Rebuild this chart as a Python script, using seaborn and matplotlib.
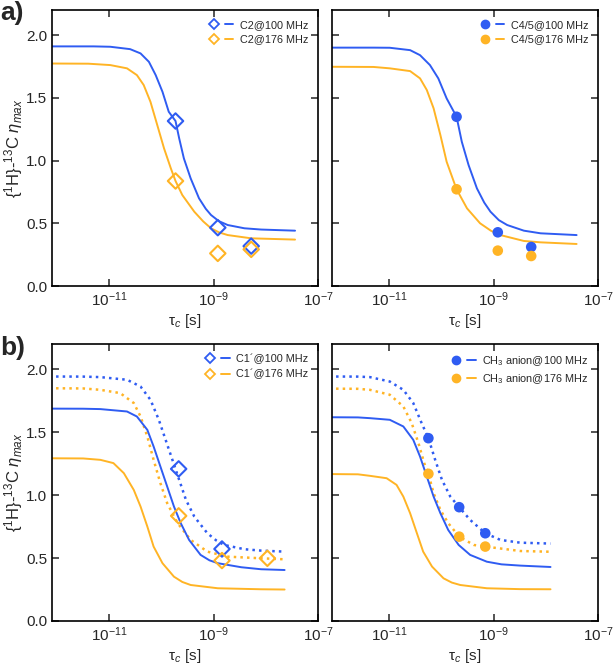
import numpy as np
import pandas as pd
import seaborn as sns
import matplotlib.pyplot as plt
from matplotlib.lines import Line2D
from matplotlib.legend_handler import HandlerTuple
from matplotlib.ticker import NullLocator, FormatStrFormatter

sns.set_style("ticks")
plt.rcParams['font.family'] = ['Liberation Sans', 'DejaVu Sans']
plt.rcParams['mathtext.fontset'] = 'custom'
plt.rcParams['mathtext.rm'] = 'Liberation Sans'
plt.rcParams['mathtext.it'] = 'Liberation Sans:italic'

BLUE = "#2f5cf2"
ORANGE = "#ffb425"

# ---- data (log10 of tau_c in s, eta_max) ----
# a) left: C2
a1_blue_log = [-12.4, -11.3, -10.98, -10.60, -10.40, -10.24, -10.11, -9.98, -9.86, -9.73, -9.66, -9.57,
               -9.44, -9.28, -9.15, -9.05, -8.90, -8.73, -8.41, -8.09, -7.44]
a1_blue_eta = [1.91, 1.91, 1.907, 1.888, 1.854, 1.787, 1.681, 1.548, 1.389, 1.315, 1.177, 1.017,
               0.858, 0.699, 0.615, 0.566, 0.517, 0.486, 0.460, 0.450, 0.441]
a1_orng_log = [-12.4, -11.4, -10.98, -10.66, -10.47, -10.34, -10.21, -10.08, -9.95, -9.82, -9.73, -9.60,
               -9.37, -9.20, -9.05, -8.90, -8.73, -8.28, -7.44]
a1_orng_eta = [1.774, 1.772, 1.761, 1.735, 1.681, 1.602, 1.468, 1.283, 1.097, 0.938, 0.837, 0.725,
               0.592, 0.515, 0.460, 0.428, 0.406, 0.380, 0.370]
a1_pts_log = [-9.73, -8.92, -8.28]
a1_pts_blue = [1.315, 0.465, 0.318]
a1_pts_orng = [0.837, 0.26, 0.292]

# a) right: C4/5
a2_blue_log = [-12.4, -11.3, -10.99, -10.60, -10.41, -10.22, -10.06, -9.90, -9.71, -9.61, -9.48, -9.32,
               -9.18, -9.06, -8.90, -8.74, -8.42, -8.10, -7.41]
a2_blue_eta = [1.90, 1.90, 1.899, 1.880, 1.840, 1.761, 1.655, 1.495, 1.349, 1.150, 0.964, 0.778,
               0.665, 0.592, 0.525, 0.486, 0.441, 0.420, 0.406]
a2_orng_log = [-12.4, -11.3, -10.99, -10.60, -10.41, -10.28, -10.15, -10.02, -9.90, -9.71, -9.51, -9.26,
               -9.05, -8.87, -8.42, -8.10, -7.41]
a2_orng_eta = [1.748, 1.746, 1.735, 1.713, 1.655, 1.562, 1.416, 1.203, 0.990, 0.771, 0.619, 0.500,
               0.440, 0.406, 0.359, 0.348, 0.335]
a2_pts_log = [-9.71, -8.92, -8.28]
a2_pts_blue = [1.349, 0.428, 0.311]
a2_pts_orng = [0.771, 0.282, 0.239]

# b) left: C1'
b1_blue_dot_log = [-12.4, -11.5, -11.17, -10.66, -10.40, -10.21, -10.05, -9.92, -9.79, -9.66, -9.53, -9.37,
                   -9.12, -8.95, -8.80, -8.41, -8.09, -7.64]
b1_blue_dot_eta = [1.942, 1.941, 1.937, 1.916, 1.862, 1.757, 1.598, 1.439, 1.280, 1.121, 0.962, 0.829,
                   0.697, 0.640, 0.604, 0.570, 0.559, 0.551]
b1_orng_dot_log = [-12.4, -11.5, -11.17, -10.79, -10.53, -10.40, -10.27, -10.15, -10.02, -9.89, -9.69, -9.44,
                   -9.12, -8.73, -8.09, -7.64]
b1_orng_dot_eta = [1.849, 1.847, 1.836, 1.810, 1.731, 1.624, 1.465, 1.280, 1.095, 0.936, 0.777, 0.644,
                   0.551, 0.511, 0.498, 0.490]
b1_blue_sol_log = [-12.4, -11.5, -11.17, -10.66, -10.47, -10.27, -10.15, -10.02, -9.89, -9.76, -9.63, -9.47,
                   -9.25, -9.08, -8.92, -8.47, -8.09, -7.64]
b1_blue_sol_eta = [1.687, 1.686, 1.683, 1.664, 1.624, 1.518, 1.386, 1.227, 1.068, 0.909, 0.777, 0.644,
                   0.525, 0.482, 0.459, 0.427, 0.411, 0.405]
b1_orng_sol_log = [-12.4, -11.5, -11.17, -10.92, -10.72, -10.53, -10.40, -10.27, -10.15, -9.98, -9.76, -9.60,
                   -9.44, -8.92, -8.09, -7.64]
b1_orng_sol_eta = [1.293, 1.291, 1.280, 1.254, 1.174, 1.041, 0.909, 0.750, 0.591, 0.459, 0.352, 0.310,
                   0.286, 0.260, 0.252, 0.250]
b1_pts_blue_log = [-9.67, -8.84]
b1_pts_blue = [1.208, 0.572]
b1_pts_orng_log = [-9.67, -8.84, -7.97]
b1_pts_orng = [0.835, 0.480, 0.498]

# b) right: CH3 anion
b2_blue_dot_log = [-12.4, -11.6, -11.37, -10.99, -10.73, -10.54, -10.38, -10.25, -10.12, -9.99, -9.83, -9.66,
                   -9.45, -9.16, -8.87, -8.49, -7.91]
b2_blue_dot_eta = [1.942, 1.941, 1.937, 1.902, 1.836, 1.731, 1.572, 1.452, 1.280, 1.121, 0.988, 0.904,
                   0.803, 0.697, 0.644, 0.622, 0.615]
b2_orng_dot_log = [-12.4, -11.6, -11.37, -10.99, -10.73, -10.57, -10.44, -10.33, -10.25, -10.15, -10.02, -9.87,
                   -9.66, -9.38, -9.16, -8.49, -7.91]
b2_orng_dot_eta = [1.846, 1.844, 1.836, 1.797, 1.704, 1.572, 1.412, 1.254, 1.169, 1.015, 0.882, 0.777,
                   0.670, 0.604, 0.591, 0.556, 0.550]
b2_blue_sol_log = [-12.4, -11.6, -11.37, -10.99, -10.73, -10.54, -10.41, -10.28, -10.15, -10.02, -9.87, -9.67,
                   -9.45, -9.13, -8.85, -8.49, -7.91]
b2_blue_sol_eta = [1.619, 1.617, 1.611, 1.598, 1.545, 1.439, 1.306, 1.147, 0.988, 0.856, 0.723, 0.604,
                   0.525, 0.471, 0.450, 0.440, 0.429]
b2_orng_sol_log = [-12.4, -11.6, -11.37, -11.05, -10.86, -10.73, -10.60, -10.47, -10.35, -10.18, -9.96, -9.80,
                   -9.64, -9.13, -8.49, -7.91]
b2_orng_sol_eta = [1.168, 1.165, 1.153, 1.134, 1.081, 0.988, 0.856, 0.697, 0.551, 0.432, 0.339, 0.305,
                   0.286, 0.260, 0.253, 0.252]
b2_pts_log = [-10.25, -9.66, -9.16]
b2_pts_blue = [1.452, 0.904, 0.697]
b2_pts_orng = [1.169, 0.670, 0.591]


def tau(logs):
    return 10.0 ** np.array(logs)


def curve(ax, logs, eta, color, ls="-"):
    df = pd.DataFrame({"tau": tau(logs), "eta": eta})
    sns.lineplot(data=df, x="tau", y="eta", ax=ax, color=color, linestyle=ls,
                 linewidth=1.4 if ls == "-" else 1.8, sort=True, estimator=None)


def points(ax, logs, eta, color, marker):
    df = pd.DataFrame({"tau": tau(logs), "eta": eta})
    if marker == "D":
        sns.scatterplot(data=df, x="tau", y="eta", ax=ax, marker="D", s=62,
                        facecolor="none", edgecolor=color, linewidth=1.5, zorder=5)
    else:
        sns.scatterplot(data=df, x="tau", y="eta", ax=ax, marker="o", s=58,
                        color=color, edgecolor="none", zorder=5)


def legend(ax, marker, labels):
    handles = []
    for c in (BLUE, ORANGE):
        if marker == "D":
            m = Line2D([], [], marker="D", ls="none", markersize=5.5, markerfacecolor="none",
                       markeredgecolor=c, markeredgewidth=1.3)
        else:
            m = Line2D([], [], marker="o", ls="none", markersize=6, color=c)
        ln = Line2D([], [], color=c, lw=1.4)
        handles.append((m, ln))
    ax.legend(handles, labels, handler_map={tuple: HandlerTuple(ndivide=None, pad=0.6)},
              loc="upper right", frameon=False, fontsize=7.8, handlelength=2.2,
              handletextpad=0.6, labelspacing=0.45, borderaxespad=0.5)


def style(ax, left):
    ax.set_xscale("log")
    ax.set_xlim(8e-13, 1e-7)
    ax.set_ylim(0, 2.2)
    ax.set_xticks([1e-11, 1e-9, 1e-7])
    ax.xaxis.set_minor_locator(NullLocator())
    ax.set_yticks([0.0, 0.5, 1.0, 1.5, 2.0])
    ax.yaxis.set_major_formatter(FormatStrFormatter("%.1f"))
    ax.tick_params(direction="in", top=True, right=True, length=5, width=1.1,
                   labelsize=11, labelleft=left, pad=3.5)
    for s in ax.spines.values():
        s.set_linewidth(1.2)
        s.set_color("black")
    ax.set_xlabel(r"$\mathrm{\tau}_{c}$ [s]", fontsize=11, labelpad=2)
    if left:
        ax.set_ylabel(r"{$^{1}$H}-$^{13}$C $\eta_{max}$", fontsize=12, labelpad=1)
    else:
        ax.set_ylabel("")


fig = plt.figure(figsize=(6.14, 6.69), dpi=100)
axA1 = fig.add_axes([52 / 614, 1 - 286 / 669, 266 / 614, 276 / 669])
axA2 = fig.add_axes([332 / 614, 1 - 286 / 669, 266 / 614, 276 / 669])
axB1 = fig.add_axes([52 / 614, 1 - 621 / 669, 266 / 614, 277 / 669])
axB2 = fig.add_axes([332 / 614, 1 - 621 / 669, 266 / 614, 277 / 669])

# a) left
curve(axA1, a1_blue_log, a1_blue_eta, BLUE)
curve(axA1, a1_orng_log, a1_orng_eta, ORANGE)
points(axA1, a1_pts_log, a1_pts_blue, BLUE, "D")
points(axA1, a1_pts_log, a1_pts_orng, ORANGE, "D")
legend(axA1, "D", ["C2@100 MHz", "C2@176 MHz"])

# a) right
curve(axA2, a2_blue_log, a2_blue_eta, BLUE)
curve(axA2, a2_orng_log, a2_orng_eta, ORANGE)
points(axA2, a2_pts_log, a2_pts_blue, BLUE, "o")
points(axA2, a2_pts_log, a2_pts_orng, ORANGE, "o")
legend(axA2, "o", ["C4/5@100 MHz", "C4/5@176 MHz"])

# b) left
curve(axB1, b1_blue_dot_log, b1_blue_dot_eta, BLUE, ":")
curve(axB1, b1_orng_dot_log, b1_orng_dot_eta, ORANGE, ":")
curve(axB1, b1_blue_sol_log, b1_blue_sol_eta, BLUE)
curve(axB1, b1_orng_sol_log, b1_orng_sol_eta, ORANGE)
points(axB1, b1_pts_blue_log, b1_pts_blue, BLUE, "D")
points(axB1, b1_pts_orng_log, b1_pts_orng, ORANGE, "D")
legend(axB1, "D", ["C1\u00b4@100 MHz", "C1\u00b4@176 MHz"])

# b) right
curve(axB2, b2_blue_dot_log, b2_blue_dot_eta, BLUE, ":")
curve(axB2, b2_orng_dot_log, b2_orng_dot_eta, ORANGE, ":")
curve(axB2, b2_blue_sol_log, b2_blue_sol_eta, BLUE)
curve(axB2, b2_orng_sol_log, b2_orng_sol_eta, ORANGE)
points(axB2, b2_pts_log, b2_pts_blue, BLUE, "o")
points(axB2, b2_pts_log, b2_pts_orng, ORANGE, "o")
legend(axB2, "o", [r"CH$_3$ anion@100 MHz", r"CH$_3$ anion@176 MHz"])

style(axA1, True)
style(axA2, False)
style(axB1, True)
style(axB2, False)

fig.text(0.0, 0.999, "a)", fontsize=19, fontweight="bold", va="top", ha="left")
fig.text(0.0, 0.498, "b)", fontsize=19, fontweight="bold", va="top", ha="left")

fig.savefig("out.png", dpi=100)
